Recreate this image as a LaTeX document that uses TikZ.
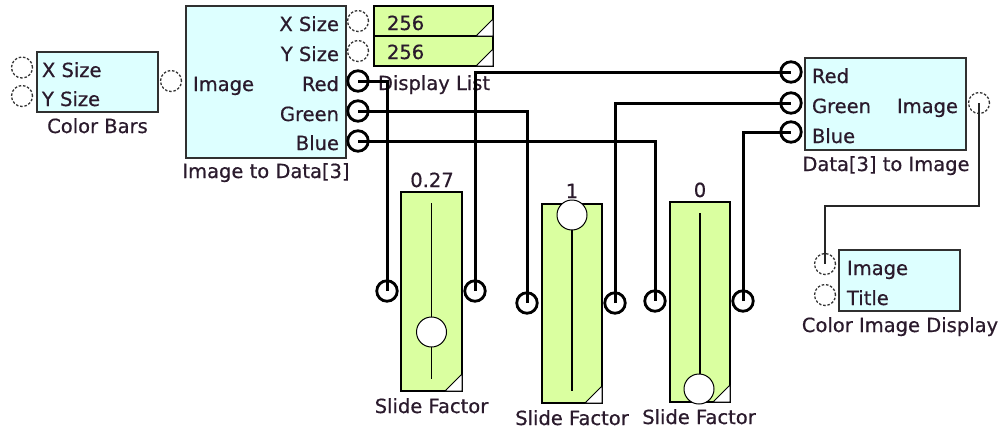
\documentclass[tikz,border=0pt]{standalone}
\usepackage{fontspec}
\setmainfont{DejaVu Sans}[FakeBold=0.6]
\definecolor{cyanfill}{HTML}{DDFFFF}
\definecolor{greenfill}{HTML}{DAFFA0}
\definecolor{txt}{HTML}{2A1A2C}
\definecolor{edge}{HTML}{303030}
\tikzset{
 every node/.style={font=\fontsize{19.5}{22}\selectfont, text=txt, inner sep=0pt, outer sep=0pt},
 block/.style={draw=edge, line width=1.5pt, fill=cyanfill},
 slider/.style={draw=black, line width=1.5pt, fill=greenfill},
 cport/.style={circle, draw=black, line width=2.8pt, minimum size=20.5pt},
 uport/.style={circle, draw=black!80, line width=1.3pt, dash pattern=on 2.5pt off 1.8pt, minimum size=21pt},
 wire/.style={draw=black, line width=3pt},
 imgwire/.style={draw=black!85, line width=2pt},
 knob/.style={circle, draw=black, line width=1pt, fill=white, minimum size=30pt},
 corner/.style={draw=black, line width=1pt, fill=white},
 track/.style={draw=black, line width=1.5pt},
}
\begin{document}
\begin{tikzpicture}[x=1pt, y=-1pt]
\useasboundingbox (0,0) rectangle (1006,431);
% ---------- blocks ----------
\node[block, minimum width=121pt, minimum height=60pt] (cb) at (97.5,82) {};
\node[block, minimum width=160pt, minimum height=152pt] (itd) at (266,82) {};
\node[slider, minimum width=119pt, minimum height=30pt] (dl1) at (433.5,21) {};
\node[slider, minimum width=119pt, minimum height=30pt] (dl2) at (433.5,51) {};
\node[block, minimum width=161pt, minimum height=92pt] (dti) at (885.5,104) {};
\node[block, minimum width=121pt, minimum height=61pt] (cid) at (899.5,280.5) {};
\node[slider, minimum width=61pt, minimum height=199pt] (sf1) at (431.5,291.5) {};
\node[slider, minimum width=60pt, minimum height=199pt] (sf2) at (572,303.5) {};
\node[slider, minimum width=60pt, minimum height=200pt] (sf3) at (700,302) {};
% corner marks
\foreach \b in {dl1,dl2,sf1,sf2,sf3}
  \draw[corner] (\b.south east) -- ++(-17,0) -- ++(17,-17) -- cycle;
% ---------- texts ----------
\node[anchor=base west] (cbx) at (42,77) {X Size};
\node[anchor=base west] (cby) at (42,106) {Y Size};
\node[anchor=base] (cbl) at (97.5,133) {Color Bars};
\node[anchor=base west] (itdi) at (193,91) {Image};
\node[anchor=base east] (itdx) at (339,31) {X Size};
\node[anchor=base east] (itdy) at (339,61) {Y Size};
\node[anchor=base east] (itdr) at (339,91) {Red};
\node[anchor=base east] (itdg) at (339,121) {Green};
\node[anchor=base east] (itdb) at (339,150) {Blue};
\node[anchor=base] (itdl) at (266,178) {Image to Data[3]};
\node[anchor=base west] (n1) at (387,30) {256};
\node[anchor=base west] (n2) at (387,59) {256};
\node[anchor=base] (dll) at (434,90) {Display List};
\node[anchor=base west] (dtir) at (812,83) {Red};
\node[anchor=base west] (dtig) at (812,113) {Green};
\node[anchor=base west] (dtib) at (812,143) {Blue};
\node[anchor=base east] (dtii) at (958,113) {Image};
\node[anchor=base] (dtil) at (886,171) {Data[3] to Image};
\node[anchor=base west] (cidi) at (847,275) {Image};
\node[anchor=base west] (cidt) at (847,305) {Title};
\node[anchor=base] (cidl) at (900,332) {Color Image Display};
\node[anchor=base] (v1) at (432,187) {0.27};
\node[anchor=base] (v2) at (572,198) {1};
\node[anchor=base] (v3) at (700,197) {0};
\node[anchor=base] (s1l) at (431.5,413) {Slide Factor};
\node[anchor=base] (s2l) at (572,425) {Slide Factor};
\node[anchor=base] (s3l) at (699,424) {Slide Factor};
% ---------- slider tracks and knobs ----------
\draw[track] (431.5,203) -- (431.5,379);
\draw[track] (572,215) -- (572,391);
\draw[track] (700,213) -- (700,389);
\node[knob] (k1) at (431.5,332) {};
\node[knob] (k2) at (572,215) {};
\node[knob] (k3) at (699,389) {};
% ---------- ports ----------
\node[uport] (cbX) at (22,67.5) {};
\node[uport] (cbY) at (22,96) {};
\node[uport] (cbI) at (171,81) {};
\node[uport] (itdX) at (358,21) {};
\node[uport] (itdY) at (358,51) {};
\node[cport] (itdR) at (358,81) {};
\node[cport] (itdG) at (358,111) {};
\node[cport] (itdB) at (358,141) {};
\node[cport] (dtiR) at (791,72) {};
\node[cport] (dtiG) at (791,103) {};
\node[cport] (dtiB) at (791,132) {};
\node[uport] (dtiI) at (979,103) {};
\node[uport] (cidI) at (825,264) {};
\node[uport] (cidT) at (825,295) {};
\node[cport] (sf1L) at (387,291) {};
\node[cport] (sf1R) at (475,291) {};
\node[cport] (sf2L) at (527,303) {};
\node[cport] (sf2R) at (615,303) {};
\node[cport] (sf3L) at (655,301) {};
\node[cport] (sf3R) at (743,301) {};
\coordinate (imgbend) at (900,206);
% ---------- wires ----------
\draw[wire] (itdR.center) -| (sf1L.center);
\draw[wire] (itdG.center) -| (sf2L.center);
\draw[wire] (itdB.center) -| (sf3L.center);
\draw[wire] (sf1R.center) |- (dtiR.center);
\draw[wire] (sf2R.center) |- (dtiG.center);
\draw[wire] (sf3R.center) |- (dtiB.center);
\draw[imgwire] (dtiI.center) |- (imgbend) -| (cidI.center);
\end{tikzpicture}
\end{document}
